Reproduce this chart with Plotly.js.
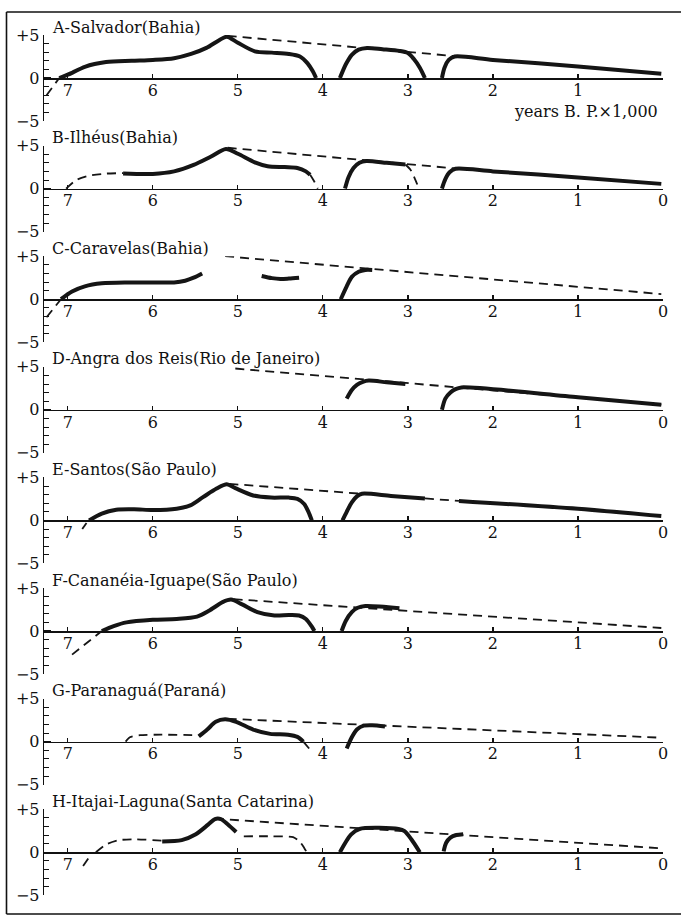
<!DOCTYPE html>
<html><head><meta charset="utf-8">
<script src="https://cdn.plot.ly/plotly-3.0.1.min.js"></script>
<style>html,body{margin:0;padding:0;background:#fff}#chart{width:682px;height:918px}</style>
</head><body><div id="chart"></div>
<script>
// ---------- data (x: thousand years B.P., y: metres) ----------
const panelTitles = [
  'A-Salvador(Bahia)', 'B-Ilhéus(Bahia)', 'C-Caravelas(Bahia)',
  'D-Angra dos Reis(Rio de Janeiro)', 'E-Santos(São Paulo)',
  'F-Cananéia-Iguape(São Paulo)', 'G-Paranaguá(Paraná)',
  'H-Itajai-Laguna(Santa Catarina)'
];
const xTickVals = [7, 6, 5, 4, 3, 2, 1, 0];
const xTickText = ['7', '6', '5', '4', '3', '2', '1', '0'];
const yTickVals = [-5, 0, 5];
const yTickText = ['−5', '0', '+5'];
const xUnitLabel = 'years B. P.×1,000';

// A - Salvador
const aS1x = [7.1, 6.95, 6.8, 6.55, 6.25, 6.0, 5.75, 5.55, 5.37, 5.22, 5.13, 5.0, 4.8, 4.6, 4.4, 4.27, 4.18, 4.12, 4.08];
const aS1y = [0, 0.6, 1.3, 1.85, 2.0, 2.1, 2.3, 2.8, 3.5, 4.4, 4.8, 4.1, 3.1, 2.95, 2.8, 2.5, 1.7, 0.8, 0];
const aD1x = [7.25, 7.1], aD1y = [-2.0, 0];
const aEnvX = [5.12, 2.45], aEnvY = [4.9, 2.55];
const aS2x = [3.8, 3.73, 3.66, 3.58, 3.48, 3.3, 3.1, 3.0, 2.93, 2.86, 2.8];
const aS2y = [0, 1.6, 2.7, 3.3, 3.5, 3.35, 3.15, 2.9, 2.2, 1.2, 0];
const aS3x = [2.6, 2.57, 2.52, 2.45, 2.0, 1.0, 0.02];
const aS3y = [0, 1.2, 2.1, 2.5, 2.1, 1.35, 0.5];

// B - Ilhéus
const bD1x = [7.02, 6.9, 6.75, 6.55, 6.35], bD1y = [0, 1.0, 1.5, 1.75, 1.8];
const bS1x = [6.35, 6.0, 5.75, 5.52, 5.32, 5.14, 5.0, 4.8, 4.65, 4.45, 4.3, 4.2, 4.15];
const bS1y = [1.75, 1.7, 2.0, 2.75, 3.7, 4.6, 4.05, 3.05, 2.6, 2.5, 2.4, 2.0, 1.6];
const bD2x = [4.15, 4.1, 4.06], bD2y = [1.6, 0.8, 0];
const bEnvX = [5.12, 2.45], bEnvY = [4.75, 2.35];
const bS2x = [3.74, 3.7, 3.64, 3.57, 3.49, 3.25, 3.03];
const bS2y = [0, 1.3, 2.4, 3.0, 3.2, 3.0, 2.8];
const bD3x = [3.03, 2.97, 2.92, 2.87], bD3y = [2.8, 2.2, 1.2, 0];
const bS3x = [2.6, 2.56, 2.51, 2.44, 2.0, 1.0, 0.02];
const bS3y = [0, 1.1, 1.9, 2.3, 2.0, 1.3, 0.55];

// C - Caravelas
const cD1x = [7.25, 7.08], cD1y = [-2.1, 0];
const cS1x = [7.08, 6.95, 6.8, 6.6, 6.3, 6.0, 5.75, 5.62, 5.52, 5.42];
const cS1y = [0, 0.9, 1.5, 1.85, 1.95, 1.95, 1.95, 2.15, 2.5, 3.0];
const cS2x = [4.72, 4.6, 4.5, 4.4, 4.28], cS2y = [2.7, 2.45, 2.35, 2.4, 2.5];
const cS3x = [3.79, 3.72, 3.66, 3.58, 3.5, 3.42], cS3y = [0, 1.5, 2.6, 3.2, 3.4, 3.4];
const cEnvX = [5.15, 0.02], cEnvY = [5.0, 0.6];

// D - Angra dos Reis
const dEnvX = [5.03, 0.02], dEnvY = [4.8, 0.6];
const dS1x = [3.72, 3.66, 3.6, 3.53, 3.46, 3.25, 3.03], dS1y = [1.3, 2.3, 2.9, 3.25, 3.4, 3.2, 3.0];
const dS2x = [2.6, 2.56, 2.5, 2.44, 2.37, 1.0, 0.02], dS2y = [0, 1.3, 2.0, 2.4, 2.6, 1.45, 0.6];

// E - Santos
const eD1x = [6.83, 6.78], eD1y = [-1.0, -0.3];
const eS1x = [6.75, 6.6, 6.43, 6.22, 6.0, 5.72, 5.56, 5.41, 5.25, 5.13, 5.03, 4.82, 4.61, 4.4, 4.3, 4.22, 4.17, 4.13];
const eS1y = [0, 0.8, 1.25, 1.3, 1.2, 1.35, 1.75, 2.7, 3.7, 4.2, 3.75, 2.9, 2.65, 2.65, 2.5, 1.9, 1.0, 0];
const eEnvX = [5.1, 3.55], eEnvY = [4.25, 3.1];
const eS2x = [3.77, 3.72, 3.66, 3.6, 3.54, 3.2, 2.8], eS2y = [0, 1.0, 2.1, 2.8, 3.1, 2.85, 2.55];
const eD2x = [2.8, 2.4], eD2y = [2.55, 2.27];
const eS3x = [2.4, 1.0, 0.02], eS3y = [2.27, 1.35, 0.5];

// F - Cananéia-Iguape
const fD1x = [6.95, 6.6], fD1y = [-2.75, 0];
const fS1x = [6.6, 6.46, 6.31, 6.0, 5.72, 5.48, 5.34, 5.18, 5.08, 4.95, 4.77, 4.57, 4.4, 4.28, 4.2, 4.13, 4.1];
const fS1y = [0, 0.57, 1.0, 1.3, 1.4, 1.67, 2.35, 3.35, 3.65, 3.1, 2.2, 1.8, 1.85, 1.8, 1.4, 0.5, 0];
const fEnvX = [5.05, 0.02], fEnvY = [3.7, 0.35];
const fS2x = [3.78, 3.73, 3.66, 3.59, 3.5, 3.1], fS2y = [0, 1.2, 2.2, 2.7, 2.9, 2.65];

// G - Paranaguá
const gD1x = [6.32, 6.27, 6.15, 5.9, 5.46], gD1y = [0, 0.5, 0.75, 0.8, 0.75];
const gS1x = [5.46, 5.36, 5.26, 5.15, 5.02, 4.82, 4.62, 4.41, 4.3, 4.23];
const gS1y = [0.6, 1.4, 2.3, 2.6, 2.3, 1.4, 0.9, 0.8, 0.55, 0];
const gD2x = [4.23, 4.12], gD2y = [0, -1.3];
const gEnvX = [5.12, 0.02], gEnvY = [2.65, 0.45];
const gS2x = [3.72, 3.66, 3.6, 3.52, 3.42, 3.27], gS2y = [-0.8, 0.5, 1.4, 1.85, 1.9, 1.75];

// H - Itajai-Laguna
const hD1x = [6.82, 6.75], hD1y = [-1.6, -0.6];
const hD2x = [6.67, 6.55, 6.4, 6.2, 5.89], hD2y = [0, 0.9, 1.4, 1.5, 1.35];
const hS1x = [5.89, 5.66, 5.5, 5.35, 5.27, 5.2, 5.12, 5.02], hS1y = [1.25, 1.4, 2.05, 3.2, 3.85, 3.85, 3.25, 2.35];
const hD3x = [4.93, 4.6, 4.35, 4.27, 4.22, 4.19], hD3y = [1.85, 1.85, 1.75, 1.2, 0.5, 0];
const hEnvX = [5.27, 0.02], hEnvY = [3.9, 0.45];
const hS2x = [3.8, 3.67, 3.57, 3.11, 3.04, 2.96, 2.86], hS2y = [0, 2.05, 2.7, 2.7, 2.45, 1.5, 0];
const hS3x = [2.58, 2.55, 2.5, 2.43, 2.35], hS3y = [0.1, 1.1, 1.7, 2.0, 2.1];

// segment table: [panel index, kind, x, y]
const segments = [
  [0,'d',aD1x,aD1y],[0,'d',aEnvX,aEnvY],[0,'s',aS1x,aS1y],[0,'s',aS2x,aS2y],[0,'s',aS3x,aS3y],
  [1,'d',bD1x,bD1y],[1,'d',bD2x,bD2y],[1,'d',bEnvX,bEnvY],[1,'d',bD3x,bD3y],[1,'s',bS1x,bS1y],[1,'s',bS2x,bS2y],[1,'s',bS3x,bS3y],
  [2,'d',cD1x,cD1y],[2,'d',cEnvX,cEnvY],[2,'s',cS1x,cS1y],[2,'s',cS2x,cS2y],[2,'s',cS3x,cS3y],
  [3,'d',dEnvX,dEnvY],[3,'s',dS1x,dS1y],[3,'s',dS2x,dS2y],
  [4,'d',eD1x,eD1y],[4,'d',eEnvX,eEnvY],[4,'d',eD2x,eD2y],[4,'s',eS1x,eS1y],[4,'s',eS2x,eS2y],[4,'s',eS3x,eS3y],
  [5,'d',fD1x,fD1y],[5,'d',fEnvX,fEnvY],[5,'s',fS1x,fS1y],[5,'s',fS2x,fS2y],
  [6,'d',gD1x,gD1y],[6,'d',gD2x,gD2y],[6,'d',gEnvX,gEnvY],[6,'s',gS1x,gS1y],[6,'s',gS2x,gS2y],
  [7,'d',hD1x,hD1y],[7,'d',hD2x,hD2y],[7,'d',hD3x,hD3y],[7,'d',hEnvX,hEnvY],[7,'s',hS1x,hS1y],[7,'s',hS2x,hS2y],[7,'s',hS3x,hS3y]
];

// ---------- layout ----------
const W = 682, H = 918;
const FONT = 'DejaVu Serif';
const zeroOf = i => 78 + 110.6 * i;   // pixel row of y = 0 in panel i
const half = 43;                     // pixels from 0 to ±5

const layout = {
  width: W, height: H,
  margin: {l: 0, r: 0, t: 0, b: 0},
  paper_bgcolor: '#fff', plot_bgcolor: 'rgba(0,0,0,0)',
  showlegend: false,
  font: {family: FONT, color: '#111', size: 16},
  annotations: [], shapes: []
};

panelTitles.forEach((t, i) => {
  const n = i === 0 ? '' : String(i + 1);
  const z = zeroOf(i);
  layout['xaxis' + n] = {
    domain: [44 / W, 663 / W], range: [7.28, 0],
    anchor: 'free', position: 1 - z / H,
    showline: true, linecolor: '#111', linewidth: 1.5,
    ticks: 'inside', ticklen: 4, tickwidth: 1.2, tickcolor: '#111',
    ticklabelstandoff: -3,
    tickmode: 'array', tickvals: xTickVals,
    ticktext: i === 0 ? xTickText.map(s => s === '0' ? '' : s) : xTickText,
    tickfont: {family: FONT, size: 16, color: '#111'},
    showgrid: false, zeroline: false, fixedrange: true
  };
  layout['yaxis' + n] = {
    domain: [1 - (z + half) / H, 1 - (z - half) / H], range: [-5, 5],
    anchor: 'x' + n,
    showline: true, linecolor: '#111', linewidth: 1.3,
    ticks: 'inside', ticklen: 7, tickwidth: 1.2, tickcolor: '#111',
    tickmode: 'array', tickvals: yTickVals, ticktext: yTickText,
    tickfont: {family: FONT, size: 16, color: '#111'},
    minor: {tickmode: 'array', tickvals: [-4, -3, -2, -1, 1, 2, 3, 4], ticks: 'inside', ticklen: 5, tickwidth: 1, tickcolor: '#111', showgrid: false},
    showgrid: false, zeroline: false, fixedrange: true
  };
  layout.annotations.push({
    text: t, xref: 'paper', yref: 'paper', x: 50 / W, y: 1 - (z - half) / H,
    xanchor: 'left', yanchor: 'middle', yshift: 8, showarrow: false,
    font: {family: FONT, size: 16, color: '#111'}
  });
});

layout.annotations.push({
  text: xUnitLabel, xref: 'paper', yref: 'paper', x: 660 / W, y: 1 - 111 / H,
  xanchor: 'right', yanchor: 'middle', showarrow: false,
  font: {family: FONT, size: 16, color: '#111'}
});

// outer frame (left, top, bottom)
const frame = {color: '#111', width: 1.6};
layout.shapes.push(
  {type: 'line', xref: 'paper', yref: 'paper', x0: 6.5 / W, x1: 6.5 / W, y0: 1 - 914 / H, y1: 1 - 12 / H, line: frame},
  {type: 'line', xref: 'paper', yref: 'paper', x0: 6.5 / W, x1: 681 / W, y0: 1 - 12 / H, y1: 1 - 12 / H, line: frame},
  {type: 'line', xref: 'paper', yref: 'paper', x0: 6.5 / W, x1: 681 / W, y0: 1 - 914 / H, y1: 1 - 914 / H, line: frame}
);

const traces = segments.map(([p, kind, xs, ys]) => {
  const n = p === 0 ? '' : String(p + 1);
  return {
    type: 'scatter', mode: 'lines', x: xs, y: ys,
    xaxis: 'x' + n, yaxis: 'y' + n, hoverinfo: 'skip', showlegend: false, cliponaxis: false,
    line: kind === 's'
      ? {color: '#151515', width: 4, shape: 'spline', smoothing: 0.8}
      : {color: '#151515', width: 1.8, dash: '9px,6px', shape: 'spline', smoothing: 0.6}
  };
});

Plotly.newPlot('chart', traces, layout, {staticPlot: true, displayModeBar: false});
</script></body></html>
